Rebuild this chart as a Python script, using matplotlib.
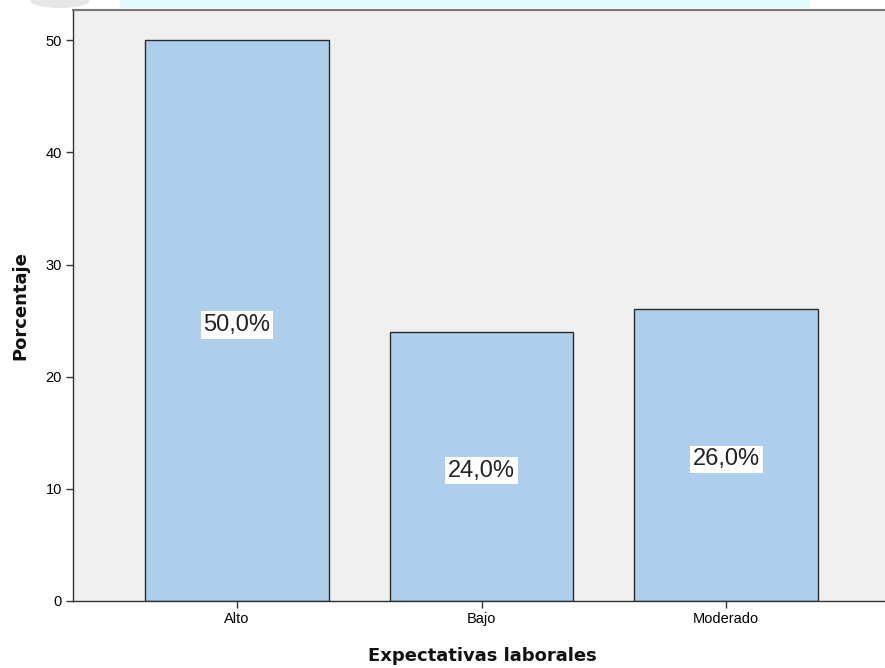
import matplotlib.pyplot as plt
from matplotlib.patches import Rectangle, Ellipse

# Porcentaje por nivel de expectativas laborales
categorias = ['Alto', 'Bajo', 'Moderado']
porcentajes = [50.0, 24.0, 26.0]
etiquetas = ['50,0%', '24,0%', '26,0%']
y_ticks = [0, 10, 20, 30, 40, 50]

plt.rcParams['font.family'] = ['Liberation Sans', 'DejaVu Sans']

fig = plt.figure(figsize=(8.85, 6.68), dpi=100)
fig.patch.set_facecolor('white')

# faint band along the top edge
fig.patches.append(Rectangle((120 / 885, 1 - 8 / 668), 690 / 885, 8 / 668,
                             transform=fig.transFigure, facecolor='#e2fcfd',
                             edgecolor='none', zorder=0))
fig.patches.append(Ellipse((60 / 885, 1.0), 60 / 885, 16 / 668,
                           transform=fig.transFigure, facecolor='#e6e6e6',
                           edgecolor='none', zorder=0))

ax = fig.add_axes([73 / 885, 67 / 668, 817 / 885, 591 / 668])
ax.set_facecolor('#f0f0f0')

x = range(len(categorias))
ax.bar(x, porcentajes, width=0.75, color='#aecfec', edgecolor='#2b2b2b',
       linewidth=1.0, zorder=2)

# value labels in the middle of each bar
for i, (v, txt) in enumerate(zip(porcentajes, etiquetas)):
    ax.annotate(txt, xy=(i, v / 2), xytext=(0, -3), textcoords='offset points',
                ha='center', va='center', fontsize=17, color='#222222',
                zorder=3,
                bbox=dict(facecolor='white', edgecolor='none', pad=2.0))

ax.set_xlim(-0.67, 2.67)
ax.set_ylim(0, 52.7)
ax.set_xticks(list(x))
ax.set_xticklabels(categorias, fontsize=10.5)
ax.set_yticks(y_ticks)
ax.set_yticklabels([str(t) for t in y_ticks], fontsize=10.5)
ax.tick_params(axis='both', direction='out', length=5, width=1,
               color='#333333', pad=3)

for side in ['left', 'bottom']:
    ax.spines[side].set_color('#333333')
    ax.spines[side].set_linewidth(1.0)
ax.spines['top'].set_color('#777777')
ax.spines['top'].set_linewidth(1.5)
ax.spines['right'].set_visible(False)

ax.set_xlabel('Expectativas laborales', fontsize=13, fontweight='bold',
              family='DejaVu Sans', color='#111111')
ax.set_ylabel('Porcentaje', fontsize=13, fontweight='bold',
              family='DejaVu Sans', color='#111111')
ax.xaxis.set_label_coords((482 - 73) / 817, -0.078)
ax.yaxis.set_label_coords(-(73 - 29) / 817, (601 - 306) / 591)

fig.savefig('out.png', dpi=100)
